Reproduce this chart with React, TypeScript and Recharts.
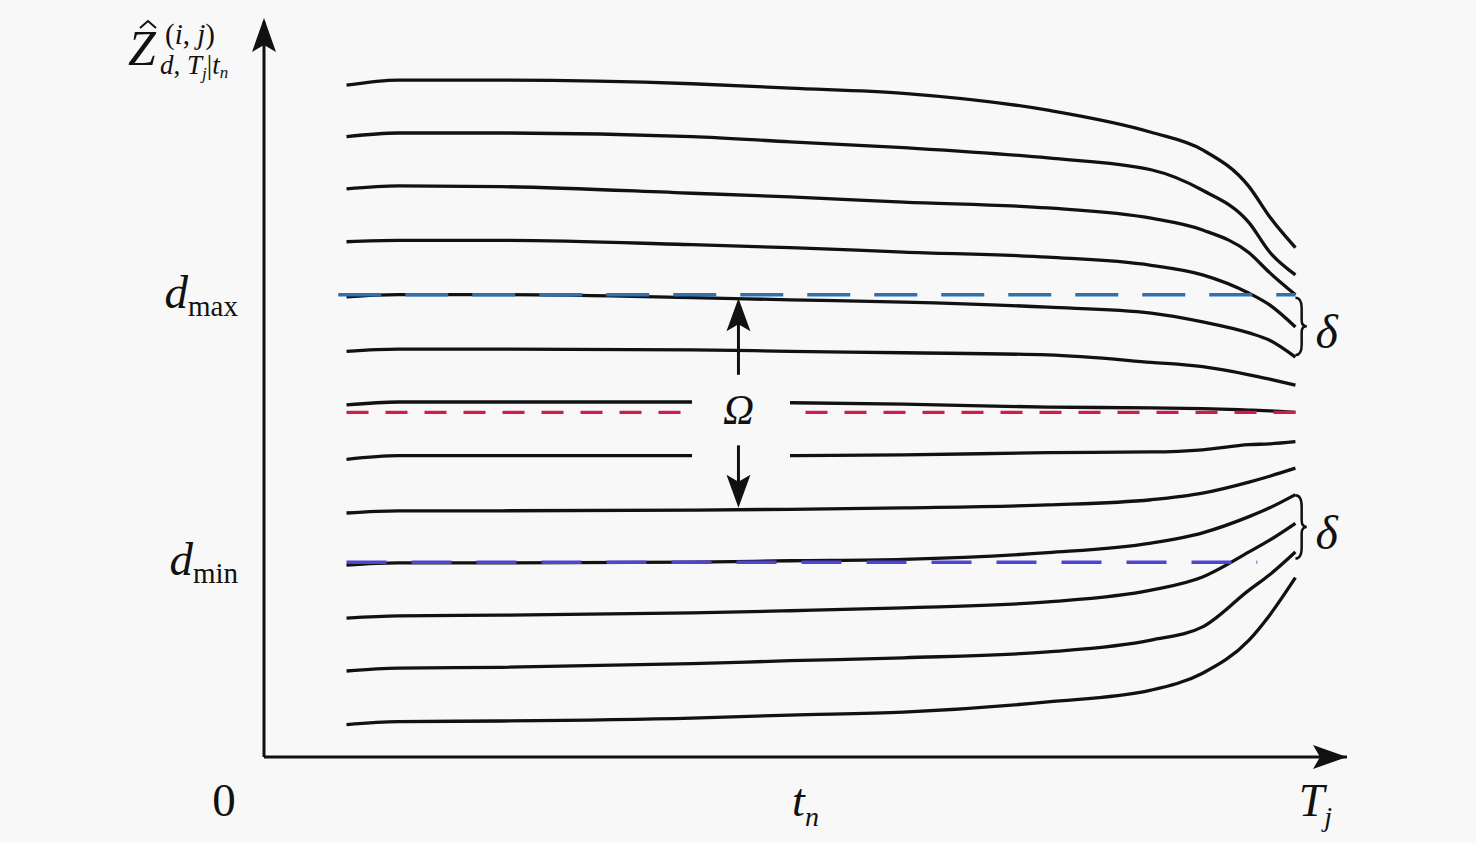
import React from "react";
import {
  LineChart,
  Line,
  XAxis,
  YAxis,
  ReferenceLine,
  ReferenceDot,
  ReferenceArea,
} from "recharts";

// time samples along each trajectory (T_j = 100)
const times = [8, 13, 23, 41.5, 51, 62, 76, 86, 91, 95.5, 97.5, 100];

// predicted values, top curves bending down
const upperCurves = [
  [91.4, 92.1, 92.1, 91.6, 91.0, 90.3, 88.0, 85.0, 82.6, 77.6, 73.5, 69.3],
  [84.4, 84.9, 84.9, 84.4, 83.7, 82.9, 81.5, 79.9, 77.1, 72.7, 68.7, 65.6],
  [77.3, 77.7, 77.6, 76.7, 76.2, 75.5, 74.7, 73.3, 71.7, 68.6, 65.9, 62.9],
  [70.1, 70.3, 70.3, 69.7, 69.3, 68.7, 68.0, 66.9, 65.6, 63.1, 61.5, 58.5],
  [62.6, 62.9, 62.9, 62.5, 62.2, 61.9, 61.2, 60.4, 59.2, 57.7, 56.7, 54.4],
  [55.2, 55.5, 55.5, 55.4, 55.2, 55.0, 54.7, 53.7, 53.1, 52.0, 51.4, 50.6],
];

// the two curves broken around the Omega label
const middleCurves = [
  [47.9, 48.3, 48.3, 48.3, 48.2, 48.0, 47.6, 47.5, 47.4, 47.2, 47.1, 46.9],
  [40.5, 41.0, 41.0, 41.0, 41.0, 41.1, 41.4, 41.5, 41.8, 42.5, 42.6, 42.9],
];

// bottom curves bending up
const lowerCurves = [
  [33.2, 33.5, 33.5, 33.6, 33.7, 33.9, 34.3, 35.0, 35.9, 37.4, 38.2, 39.3],
  [26.1, 26.4, 26.4, 26.5, 26.7, 26.9, 27.8, 29.1, 30.5, 32.7, 33.9, 35.7],
  [18.9, 19.2, 19.3, 19.6, 19.9, 20.3, 21.1, 22.7, 24.5, 27.9, 29.5, 31.8],
  [11.7, 12.1, 12.2, 12.7, 13.1, 13.5, 14.3, 15.9, 17.7, 22.7, 24.8, 27.9],
  [4.4, 4.8, 4.9, 5.3, 5.7, 6.1, 7.5, 9.1, 11.4, 15.9, 19.3, 24.4],
];

const gap = [41.5, 51];
const xTicks = [0, 52.5, 100];
const yTicks = [26.5, 62.9];
const dMax = 62.9;
const dMin = 26.5;
const center = 46.9;
const omegaT = 46;
const omegaValue = 47.2;
const omegaUp = [52.0, 62.4];
const omegaDown = [42.4, 33.9];
const deltaBands = [
  [54.7, 62.5],
  [27.0, 35.6],
];

const serif = "Liberation Serif, DejaVu Serif, serif";
const ink = "#111";
const lw = 3.3;

const toPoints = (vals: number[]) => times.map((t, i) => ({ t, v: vals[i] }));

const XTick = (props: any) => {
  const { x, y, payload } = props;
  const v = payload.value;
  if (v === 0) {
    return (
      <text x={x - 40} y={y + 59} textAnchor="middle" fontFamily={serif} fontSize={47} fill={ink}>
        0
      </text>
    );
  }
  if (v === 100) {
    return (
      <text x={x + 20} y={y + 59} textAnchor="middle" fontFamily={serif} fontSize={46} fill={ink}>
        <tspan fontStyle="italic">T</tspan>
        <tspan fontStyle="italic" fontSize={28} dy={10}>j</tspan>
      </text>
    );
  }
  return (
    <text x={x} y={y + 59} textAnchor="middle" fontFamily={serif} fontSize={46} fill={ink}>
      <tspan fontStyle="italic">t</tspan>
      <tspan fontStyle="italic" fontSize={28} dy={10}>n</tspan>
    </text>
  );
};

const YTick = (props: any) => {
  const { x, y, payload } = props;
  const sub = payload.value === dMax ? "max" : "min";
  return (
    <text x={x - 26} y={y + 13} textAnchor="end" fontFamily={serif} fontSize={47} fill={ink}>
      <tspan fontStyle="italic">d</tspan>
      <tspan fontSize={29} dy={8}>{sub}</tspan>
    </text>
  );
};

const upHead = (props: any) => {
  const { cx, cy } = props;
  return (
    <path
      d={`M${cx},${cy} L${cx - 12},${cy + 33} L${cx},${cy + 26} L${cx + 12},${cy + 33} Z`}
      fill={ink}
    />
  );
};

const downHead = (props: any) => {
  const { cx, cy } = props;
  return (
    <path
      d={`M${cx},${cy} L${cx - 12},${cy - 33} L${cx},${cy - 26} L${cx + 12},${cy - 33} Z`}
      fill={ink}
    />
  );
};

const axisTopHead = (props: any) => {
  const { cx, cy } = props;
  const t = cy - 4;
  return (
    <path d={`M${cx},${t} L${cx - 12},${t + 34} L${cx},${t + 27} L${cx + 12},${t + 34} Z`} fill={ink} />
  );
};

const axisRightHead = (props: any) => {
  const { cx, cy } = props;
  return (
    <path d={`M${cx},${cy} L${cx - 34},${cy - 12} L${cx - 27},${cy} L${cx - 34},${cy + 12} Z`} fill={ink} />
  );
};

const omegaLabel = (props: any) => {
  const { cx, cy } = props;
  return (
    <text x={cx} y={cy + 14} textAnchor="middle" fontFamily={serif} fontStyle="italic" fontSize={43} fill={ink}>
      Ω
    </text>
  );
};

const yTitle = (props: any) => {
  const { cx, cy } = props;
  const x0 = cx - 136;
  return (
    <g fontFamily={serif} fill={ink}>
      <text x={x0} y={cy + 43} fontSize={50} fontStyle="italic">
        Z
      </text>
      <path
        d={`M${x0 + 12},${cy + 6} L${x0 + 20},${cy - 1} L${x0 + 28},${cy + 6}`}
        fill="none"
        stroke={ink}
        strokeWidth={2}
      />
      <text x={x0 + 37} y={cy + 22} fontSize={29}>
        (<tspan fontStyle="italic">i</tspan>, <tspan fontStyle="italic">j</tspan>)
      </text>
      <text x={x0 + 32} y={cy + 52} fontSize={27}>
        <tspan fontStyle="italic">d</tspan>, <tspan fontStyle="italic">T</tspan>
        <tspan fontStyle="italic" fontSize={17} dy={5}>j</tspan>
        <tspan dy={-5}>|</tspan>
        <tspan fontStyle="italic">t</tspan>
        <tspan fontStyle="italic" fontSize={17} dy={4}>n</tspan>
      </text>
    </g>
  );
};

const brace = (props: any) => {
  const { x, y, width, height } = props;
  const m = x + width * 0.55;
  const mid = y + height / 2;
  const d = [
    `M${x},${y}`,
    `Q${m},${y} ${m},${y + height * 0.18}`,
    `L${m},${mid - height * 0.1}`,
    `Q${m},${mid} ${x + width},${mid}`,
    `Q${m},${mid} ${m},${mid + height * 0.1}`,
    `L${m},${y + height - height * 0.18}`,
    `Q${m},${y + height} ${x},${y + height}`,
  ].join(" ");
  return (
    <g>
      <path d={d} fill="none" stroke={ink} strokeWidth={2.5} />
      <text
        x={x + width + 20}
        y={mid + 22}
        textAnchor="middle"
        fontFamily={serif}
        fontStyle="italic"
        fontSize={48}
        fill={ink}
      >
        δ
      </text>
    </g>
  );
};

export default function App() {
  return (
    <div
      style={{
        position: "fixed",
        left: 0,
        top: 0,
        width: 1476,
        height: 843,
        background: "#f8f8f8",
      }}
    >
      <LineChart width={1476} height={843} margin={{ top: 22, right: 129, left: 164, bottom: 0 }}>
        <XAxis
          dataKey="t"
          type="number"
          domain={[0, 105]}
          ticks={xTicks}
          tick={XTick}
          tickLine={false}
          tickSize={0}
          tickMargin={0}
          height={86}
          axisLine={{ stroke: ink, strokeWidth: 3 }}
          interval={0}
        />
        <YAxis
          type="number"
          domain={[0, 100]}
          ticks={yTicks}
          tick={YTick}
          tickLine={false}
          tickSize={0}
          tickMargin={0}
          width={100}
          axisLine={{ stroke: ink, strokeWidth: 3 }}
          interval={0}
        />

        {[...upperCurves, ...lowerCurves].map((vals, i) => (
          <Line
            key={`c${i}`}
            data={toPoints(vals)}
            dataKey="v"
            type="monotone"
            stroke={ink}
            strokeWidth={lw}
            dot={false}
            activeDot={false}
            isAnimationActive={false}
          />
        ))}
        {middleCurves.map((vals, i) => (
          <Line
            key={`ml${i}`}
            data={toPoints(vals).filter((p) => p.t <= gap[0])}
            dataKey="v"
            type="monotone"
            stroke={ink}
            strokeWidth={lw}
            dot={false}
            activeDot={false}
            isAnimationActive={false}
          />
        ))}
        {middleCurves.map((vals, i) => (
          <Line
            key={`mr${i}`}
            data={toPoints(vals).filter((p) => p.t >= gap[1])}
            dataKey="v"
            type="monotone"
            stroke={ink}
            strokeWidth={lw}
            dot={false}
            activeDot={false}
            isAnimationActive={false}
          />
        ))}

        <ReferenceLine
          segment={[
            { x: 7.2, y: dMax },
            { x: 100, y: dMax },
          ]}
          stroke="#2f70b0"
          strokeWidth={3.5}
          strokeDasharray="43 24"
        />
        <ReferenceLine
          segment={[
            { x: 8, y: center },
            { x: 41.3, y: center },
          ]}
          stroke="#d21a4b"
          strokeWidth={3.3}
          strokeDasharray="22 17"
        />
        <ReferenceLine
          segment={[
            { x: 52.5, y: center },
            { x: 100, y: center },
          ]}
          stroke="#d21a4b"
          strokeWidth={3.3}
          strokeDasharray="22 17"
        />
        <ReferenceLine
          segment={[
            { x: 8, y: dMin },
            { x: 96.3, y: dMin },
          ]}
          stroke="#4f45d2"
          strokeWidth={3.5}
          strokeDasharray="40 25"
        />

        <ReferenceLine
          segment={[
            { x: omegaT, y: omegaUp[0] },
            { x: omegaT, y: omegaUp[1] - 2 },
          ]}
          stroke={ink}
          strokeWidth={3}
        />
        <ReferenceLine
          segment={[
            { x: omegaT, y: omegaDown[0] },
            { x: omegaT, y: omegaDown[1] + 2 },
          ]}
          stroke={ink}
          strokeWidth={3}
        />
        <ReferenceDot x={omegaT} y={omegaUp[1]} r={0} shape={upHead} ifOverflow="visible" />
        <ReferenceDot x={omegaT} y={omegaDown[1]} r={0} shape={downHead} ifOverflow="visible" />
        <ReferenceDot x={omegaT} y={omegaValue} r={0} shape={omegaLabel} ifOverflow="visible" />

        {deltaBands.map(([lo, hi], i) => (
          <ReferenceArea
            key={`d${i}`}
            x1={100}
            x2={101.1}
            y1={lo}
            y2={hi}
            shape={brace}
            ifOverflow="visible"
          />
        ))}

        <ReferenceDot x={0} y={100} r={0} shape={axisTopHead} ifOverflow="visible" />
        <ReferenceDot x={105} y={0} r={0} shape={axisRightHead} ifOverflow="visible" />
        <ReferenceDot x={0} y={100} r={0} shape={yTitle} ifOverflow="visible" />
      </LineChart>
    </div>
  );
}
